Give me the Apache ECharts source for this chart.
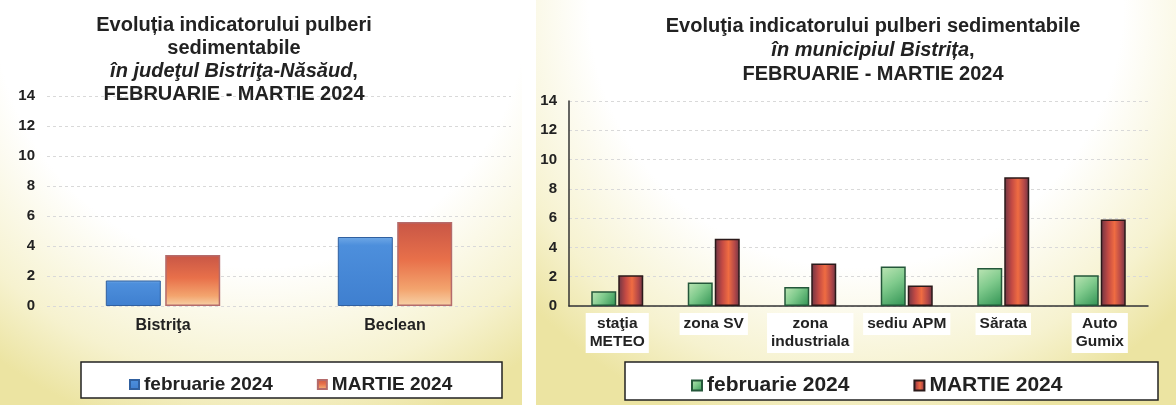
<!DOCTYPE html>
<html>
<head>
<meta charset="utf-8">
<script src="https://cdn.jsdelivr.net/npm/echarts@6/dist/echarts.min.js"></script>
<style>
  html, body { margin: 0; padding: 0; background: #fff; }
  #chart { width: 1176px; height: 405px; }
</style>
</head>
<body>
<div id="chart"></div>
<script>
// date
const judetCategories = ['Bistriţa', 'Beclean'];
const judetFeb = [1.7, 4.6];
const judetMar = [3.4, 5.6];

const municipiuCategories = ['staţia\nMETEO', 'zona SV', 'zona\nindustriala', 'sediu APM', 'Sărata', 'Auto\nGumix'];
const municipiuFeb = [1.0, 1.6, 1.3, 2.7, 2.6, 2.1];
const municipiuMar = [2.1, 4.6, 2.9, 1.4, 8.8, 5.9];

const yMin = 0, yMax = 14, yStep = 2;
const seriesNames = ['februarie 2024', 'MARTIE 2024'];

const SANS = '"Liberation Sans", Arial, sans-serif';

const chart = echarts.init(document.getElementById('chart'));

const lin = (x, y, x2, y2, stops) =>
  new echarts.graphic.LinearGradient(x, y, x2, y2, stops.map(c => ({ offset: c[0], color: c[1] })));

// fundal alb sus, galben pal spre jos
const panelFill = () => new echarts.graphic.RadialGradient(0.5, 0.0, 1.1, [
  { offset: 0, color: '#ffffff' },
  { offset: 0.6, color: '#ffffff' },
  { offset: 0.85, color: '#f6f2cf' },
  { offset: 1, color: '#ece4a2' }
]);

function yAxisCfg(grid, showLine) {
  return {
    type: 'value', gridIndex: grid, min: yMin, max: yMax, interval: yStep,
    axisLine: { show: showLine, lineStyle: { color: '#333', width: 1.5 } },
    axisTick: { show: false },
    axisLabel: { color: '#222', fontWeight: 'bold', fontSize: 15, fontFamily: SANS, margin: 12 },
    splitLine: { show: true, lineStyle: { type: [3, 3], color: '#d9d9d9' } }
  };
}

const option = {
  animation: false,
  graphic: [
    { type: 'rect', z: -10, shape: { x: 0, y: 0, width: 522, height: 405 }, style: { fill: panelFill() } },
    { type: 'rect', z: -10, shape: { x: 536, y: 0, width: 640, height: 405 }, style: { fill: panelFill() } },
    { type: 'rect', z: -5, shape: { x: 81, y: 362, width: 421, height: 36 }, style: { fill: '#fff', stroke: '#222', lineWidth: 1.5 } },
    { type: 'rect', z: -5, shape: { x: 625, y: 362, width: 533, height: 38 }, style: { fill: '#fff', stroke: '#222', lineWidth: 1.5 } }
  ],
  title: [
    {
      left: 229, top: 9, textAlign: 'center',
      text: '{b|Evoluția indicatorului pulberi}\n{b|sedimentabile}\n{i|în judeţul Bistriţa-Năsăud},\n{b|FEBRUARIE - MARTIE 2024}',
      textStyle: {
        fontFamily: SANS, fontSize: 20, fontWeight: 'bold', color: '#222', lineHeight: 23,
        rich: {
          b: { fontFamily: SANS, fontSize: 20, fontWeight: 'bold', color: '#222', lineHeight: 23 },
          i: { fontFamily: SANS, fontSize: 20, fontWeight: 'bold', fontStyle: 'italic', color: '#222', lineHeight: 23 }
        }
      }
    },
    {
      left: 868, top: 9, textAlign: 'center',
      text: '{b|Evoluţia indicatorului pulberi sedimentabile}\n{i|în municipiul Bistrița},\n{b|FEBRUARIE - MARTIE 2024}',
      textStyle: {
        fontFamily: SANS, fontSize: 20, fontWeight: 'bold', color: '#222', lineHeight: 24,
        rich: {
          b: { fontFamily: SANS, fontSize: 20, fontWeight: 'bold', color: '#222', lineHeight: 24 },
          i: { fontFamily: SANS, fontSize: 20, fontWeight: 'bold', fontStyle: 'italic', color: '#222', lineHeight: 24 }
        }
      }
    }
  ],
  legend: [
    {
      left: 124, top: 370, itemGap: 44, itemWidth: 9, itemHeight: 9, icon: 'rect',
      data: [{ name: 'feb-j' }, { name: 'mar-j' }],
      formatter: n => n === 'feb-j' ? seriesNames[0] : seriesNames[1],
      textStyle: { fontFamily: SANS, fontSize: 19, fontWeight: 'bold', color: '#222' }
    },
    {
      left: 686, top: 370, itemGap: 64, itemWidth: 10, itemHeight: 10, icon: 'rect',
      data: [{ name: 'feb-m' }, { name: 'mar-m' }],
      formatter: n => n === 'feb-m' ? seriesNames[0] : seriesNames[1],
      textStyle: { fontFamily: SANS, fontSize: 21, fontWeight: 'bold', color: '#222' }
    }
  ],
  grid: [
    { left: 47, right: 665, top: 96, bottom: 99 },
    { left: 569, right: 28, top: 101, bottom: 99 }
  ],
  xAxis: [
    {
      type: 'category', gridIndex: 0, data: judetCategories,
      axisLine: { show: false }, axisTick: { show: false },
      axisLabel: { color: '#222', fontWeight: 'bold', fontSize: 16, fontFamily: SANS, margin: 12 }
    },
    {
      type: 'category', gridIndex: 1, data: municipiuCategories,
      axisLine: { show: true, lineStyle: { color: '#333', width: 1.5 } }, axisTick: { show: false },
      axisLabel: {
        color: '#222', fontWeight: 'bold', fontSize: 15.5, fontFamily: SANS, lineHeight: 18,
        margin: 7, backgroundColor: '#fff', padding: [2, 4], interval: 0
      }
    }
  ],
  yAxis: [yAxisCfg(0, false), yAxisCfg(1, true)],
  series: [
    {
      name: 'feb-j', type: 'bar', xAxisIndex: 0, yAxisIndex: 0, data: judetFeb,
      barWidth: 55, barGap: '8%',
      itemStyle: {
        color: lin(0, 0, 0, 1, [[0, '#6fa8e6'], [0.12, '#4d8fdc'], [1, '#3f7fcf']]),
        borderColor: '#30609f', borderWidth: 1
      }
    },
    {
      name: 'mar-j', type: 'bar', xAxisIndex: 0, yAxisIndex: 0, data: judetMar,
      barWidth: 55, barGap: '8%',
      itemStyle: {
        color: lin(0, 0, 0, 1, [[0, '#c85646'], [0.45, '#e8704a'], [0.8, '#f3a46e'], [1, '#f7d2a8']]),
        borderColor: '#b46b6b', borderWidth: 1.5
      }
    },
    {
      name: 'feb-m', type: 'bar', xAxisIndex: 1, yAxisIndex: 1, data: municipiuFeb,
      barWidth: 25, barGap: '8%',
      itemStyle: {
        color: lin(0, 0, 1, 1, [[0, '#bfe6b6'], [0.45, '#7fca8c'], [1, '#2f9252']]),
        borderColor: '#24573a', borderWidth: 1.5
      }
    },
    {
      name: 'mar-m', type: 'bar', xAxisIndex: 1, yAxisIndex: 1, data: municipiuMar,
      barWidth: 25, barGap: '8%',
      itemStyle: {
        color: lin(0, 0, 1, 0, [[0, '#6a3444'], [0.3, '#c44a44'], [0.55, '#ef6c42'], [0.8, '#b44848'], [1, '#6a3444']]),
        borderColor: '#2b1a1a', borderWidth: 1.5
      }
    }
  ]
};

chart.setOption(option);
window.addEventListener('resize', () => chart.resize());
</script>
</body>
</html>
